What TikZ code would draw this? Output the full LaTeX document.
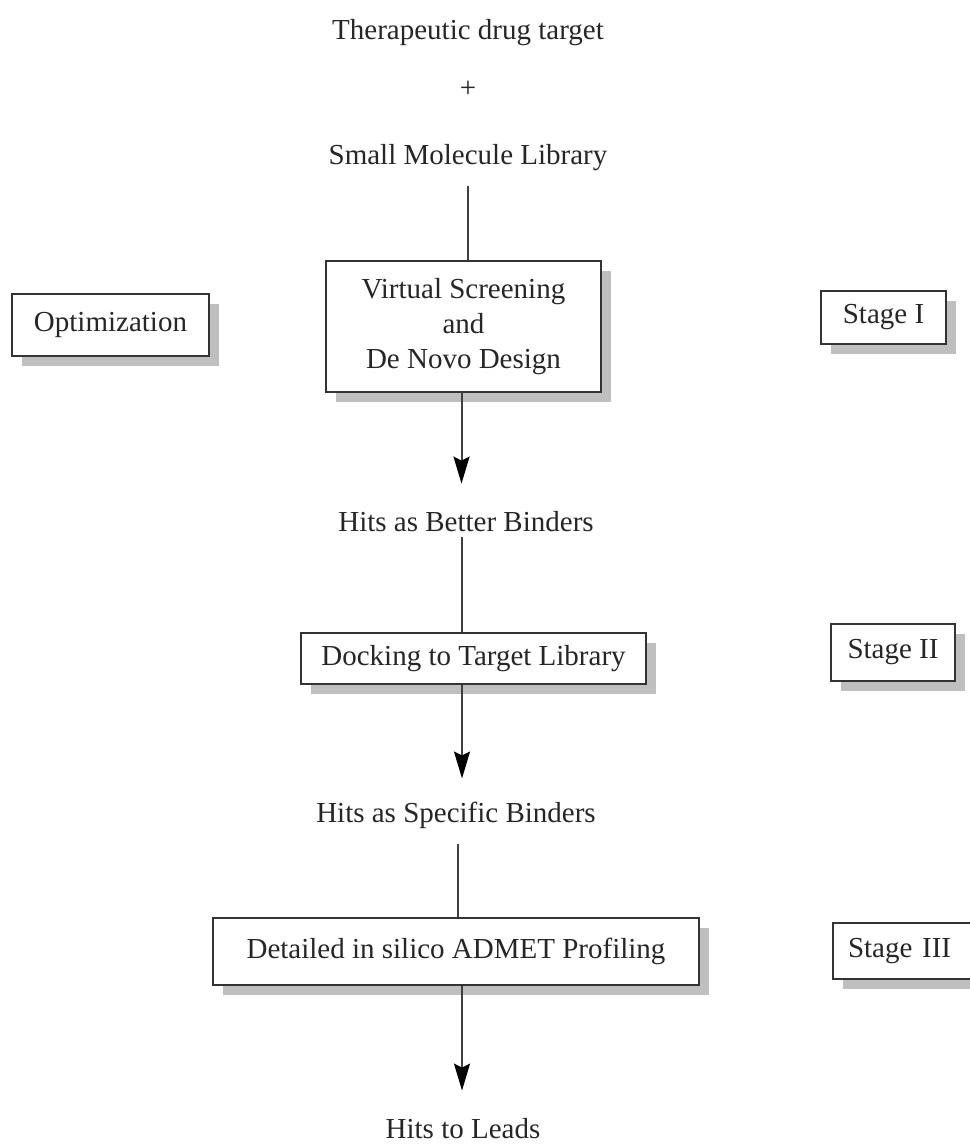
\documentclass[tikz,border=0pt]{standalone}
\usepackage{fontspec}
\setmainfont{Liberation Serif}
\usetikzlibrary{shadows,arrows.meta}
\begin{document}
\begin{tikzpicture}[x=1pt,y=-1pt,
  every node/.style={font=\fontsize{29}{35}\selectfont, text=black!85},
  txt/.style={inner sep=0pt},
  boxed/.style={draw=black!80, line width=2pt, fill=white, inner sep=0pt,
    drop shadow={shadow xshift=10pt, shadow yshift=-10pt, fill=gray!50, opacity=1}},
  conn/.style={draw=black!75, line width=2pt},
  arr/.style={draw=black!75, line width=2pt, -{Stealth[length=27pt,width=16pt,inset=4pt,black]}}
]
\useasboundingbox (0,0) rectangle (969,1145);

\node[txt] (ther) at (468,33) {Therapeutic drug target};
\node[txt] (plus) at (468,89) {+};
\node[txt] (small) at (468,158) {Small Molecule Library};

\node[boxed, minimum width=275pt, minimum height=131pt, align=center] (vs) at (463.5,326.5)
  {Virtual Screening\\and\\De Novo Design};
\node[boxed, minimum width=197pt, minimum height=62pt] (opt) at (110.5,325) {Optimization};
\node[boxed, minimum width=125pt, minimum height=53pt] (s1) at (883.5,317.5) {Stage I};

\node[txt] (better) at (466,522) {Hits as Better Binders};
\node[boxed, minimum width=345pt, minimum height=51pt] (dock) at (473.5,658.5) {Docking to Target Library};
\node[boxed, minimum width=124pt, minimum height=57pt] (s2) at (893,652.5) {Stage II};

\node[txt] (spec) at (456,815) {Hits as Specific Binders};
\node[boxed, minimum width=486pt, minimum height=67pt] (admet) at (456,951.5) {Detailed in silico ADMET Profiling};
\node[boxed, minimum width=150pt, minimum height=56pt, text width=120pt, align=left] (s3) at (908,951) {Stage III};

\node[txt] (leads) at (463,1129) {Hits to Leads};

\draw[conn, shorten <=15pt] (small.south) -- (small.south |- vs.north);
\draw[arr, shorten >=28pt] ([xshift=-2pt]vs.south) -- ([xshift=-2pt]vs.south |- better.north);
\draw[conn, shorten <=5pt] ([xshift=-4pt]better.south) -- ([xshift=-4pt]better.south |- dock.north);
\draw[arr, shorten >=23pt] ([xshift=-11.5pt]dock.south) -- ([xshift=-11.5pt]dock.south |- spec.north);
\draw[conn, shorten <=15pt] ([xshift=2pt]spec.south) -- ([xshift=2pt]spec.south |- admet.north);
\draw[arr, shorten >=28pt] ([xshift=6pt]admet.south) -- ([xshift=6pt]admet.south |- leads.north);
\end{tikzpicture}
\end{document}
